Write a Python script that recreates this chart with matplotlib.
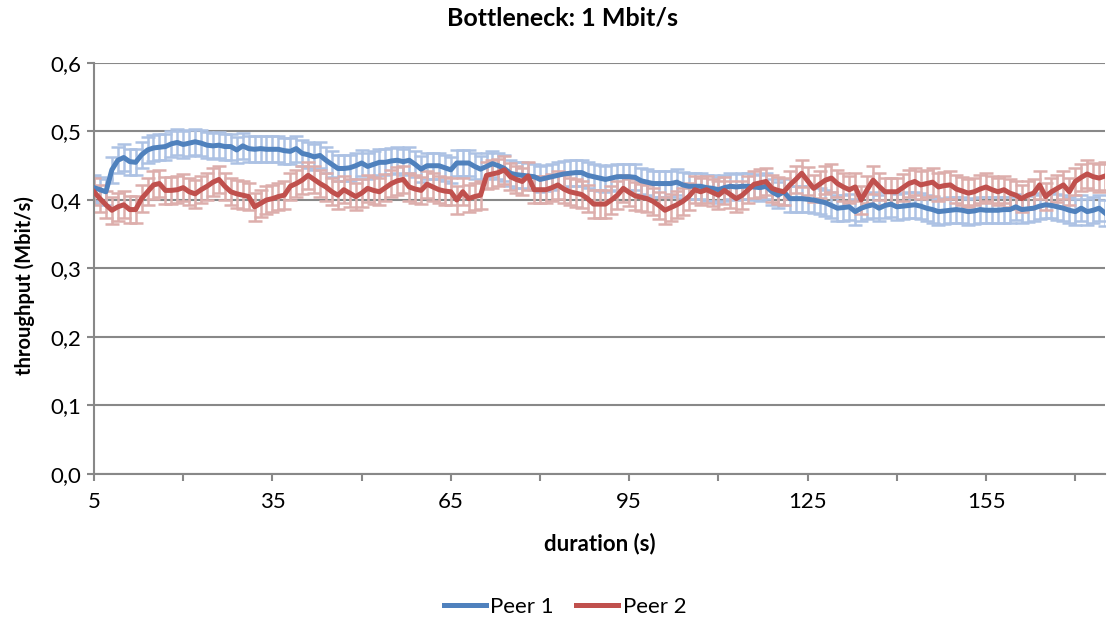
import numpy as np
import matplotlib
matplotlib.use('Agg')
import matplotlib.pyplot as plt
from matplotlib.ticker import FuncFormatter, MultipleLocator

# Datos: duración (s) y throughput medio por peer (Mbit/s)
duration = np.arange(5, 176)

peer1 = [
    0.418, 0.415, 0.412, 0.444, 0.458, 0.462, 0.456, 0.455, 0.466, 0.473,
    0.476, 0.477, 0.478, 0.482, 0.484, 0.481, 0.483, 0.485, 0.483, 0.480,
    0.479, 0.480, 0.478, 0.478, 0.473, 0.479, 0.475, 0.474, 0.475, 0.474,
    0.474, 0.474, 0.472, 0.471, 0.475, 0.468, 0.466, 0.463, 0.465, 0.458,
    0.452, 0.446, 0.446, 0.447, 0.450, 0.454, 0.449, 0.452, 0.455, 0.455,
    0.457, 0.458, 0.456, 0.458, 0.452, 0.445, 0.450, 0.450, 0.450, 0.447,
    0.444, 0.454, 0.454, 0.454, 0.449, 0.445, 0.449, 0.453, 0.450, 0.446,
    0.439, 0.437, 0.436, 0.435, 0.434, 0.430, 0.432, 0.434, 0.436, 0.438,
    0.439, 0.440, 0.440, 0.436, 0.434, 0.432, 0.430, 0.432, 0.434, 0.434,
    0.434, 0.433, 0.428, 0.426, 0.424, 0.424, 0.424, 0.424, 0.426, 0.422,
    0.420, 0.420, 0.420, 0.418, 0.417, 0.415, 0.418, 0.420, 0.419, 0.420,
    0.420, 0.419, 0.418, 0.420, 0.412, 0.407, 0.412, 0.402, 0.402, 0.402,
    0.401, 0.400, 0.398, 0.396, 0.392, 0.388, 0.389, 0.390, 0.383, 0.388,
    0.391, 0.393, 0.388, 0.392, 0.394, 0.390, 0.391, 0.392, 0.393, 0.391,
    0.388, 0.386, 0.383, 0.384, 0.385, 0.386, 0.385, 0.383, 0.384, 0.386,
    0.385, 0.385, 0.385, 0.386, 0.386, 0.390, 0.386, 0.387, 0.388, 0.391,
    0.393, 0.392, 0.390, 0.388, 0.385, 0.383, 0.388, 0.383, 0.385, 0.388,
    0.381,
]

peer2 = [
    0.412, 0.402, 0.393, 0.385, 0.390, 0.393, 0.386, 0.386, 0.402, 0.412,
    0.422, 0.424, 0.414, 0.414, 0.415, 0.418, 0.412, 0.409, 0.415, 0.420,
    0.426, 0.430, 0.420, 0.412, 0.409, 0.407, 0.405, 0.390, 0.395, 0.400,
    0.402, 0.405, 0.407, 0.420, 0.424, 0.429, 0.436, 0.430, 0.424, 0.419,
    0.412, 0.407, 0.415, 0.410, 0.405, 0.410, 0.417, 0.414, 0.412, 0.418,
    0.424, 0.428, 0.430, 0.419, 0.416, 0.414, 0.423, 0.419, 0.415, 0.413,
    0.412, 0.400, 0.412, 0.402, 0.405, 0.407, 0.436, 0.438, 0.440, 0.444,
    0.434, 0.430, 0.427, 0.435, 0.415, 0.415, 0.415, 0.418, 0.422, 0.416,
    0.412, 0.410, 0.408, 0.402, 0.394, 0.394, 0.394, 0.400, 0.407, 0.417,
    0.411, 0.406, 0.404, 0.402, 0.398, 0.392, 0.385, 0.389, 0.393, 0.398,
    0.405, 0.415, 0.412, 0.415, 0.411, 0.407, 0.414, 0.408, 0.402, 0.407,
    0.415, 0.423, 0.425, 0.427, 0.417, 0.414, 0.412, 0.422, 0.430, 0.439,
    0.428, 0.417, 0.423, 0.429, 0.432, 0.424, 0.419, 0.415, 0.419, 0.400,
    0.415, 0.429, 0.420, 0.412, 0.412, 0.412, 0.418, 0.424, 0.427, 0.422,
    0.424, 0.426, 0.419, 0.421, 0.422, 0.416, 0.413, 0.410, 0.412, 0.416,
    0.419, 0.415, 0.412, 0.415, 0.410, 0.407, 0.402, 0.407, 0.410, 0.422,
    0.405, 0.412, 0.417, 0.422, 0.412, 0.427, 0.433, 0.438, 0.434, 0.432,
    0.435,
]

# Error (desviación) aproximada de cada serie
err1 = 0.019
err2 = 0.020

labels = ['Peer 1', 'Peer 2']

plt.rcParams['font.family'] = ['Lato', 'DejaVu Sans']

fig = plt.figure(figsize=(11.1, 6.23), dpi=100)
ax = fig.add_axes([0.0847, 0.2392, 0.9108, 0.6597])

ax.errorbar(duration, peer1, yerr=err1, fmt='none', ecolor='#adc2e4',
            elinewidth=1.8, capsize=5, capthick=1.8, zorder=2)
ax.errorbar(duration, peer2, yerr=err2, fmt='none', ecolor='#ddaeac',
            elinewidth=1.8, capsize=5, capthick=1.8, zorder=2)
ax.plot(duration, peer1, color='#4f81bd', linewidth=3.6, label=labels[0], zorder=4,
        solid_joinstyle='round')
ax.plot(duration, peer2, color='#c0504d', linewidth=3.6, label=labels[1], zorder=4,
        solid_joinstyle='round')

ax.set_xlim(5, 175)
ax.set_ylim(0, 0.6)
ax.xaxis.set_major_locator(MultipleLocator(30, offset=5))
ax.xaxis.set_minor_locator(MultipleLocator(15, offset=5))
ax.yaxis.set_major_locator(MultipleLocator(0.1))
ax.yaxis.set_major_formatter(FuncFormatter(lambda v, p: f'{v:.1f}'.replace('.', ',')))

ax.grid(axis='y', color='#888888', linewidth=1.5, zorder=1)
ax.set_axisbelow(True)
for s in ['top', 'right']:
    ax.spines[s].set_visible(False)
for s in ['left', 'bottom']:
    ax.spines[s].set_color('#888888')
    ax.spines[s].set_linewidth(1.5)

ax.tick_params(axis='both', which='both', color='#888888', width=1.5, length=5,
               labelsize=16)
ax.tick_params(axis='x', which='major', pad=8)
ax.tick_params(axis='y', pad=4)

fig.text(0.507, 0.971, 'Bottleneck: 1 Mbit/s', fontsize=18, fontweight='bold',
         ha='center', va='center')
fig.text(0.54, 0.128, 'duration (s)', fontsize=16, fontweight='bold',
         ha='center', va='center')
fig.text(0.0225, 0.541, 'throughput (Mbit/s)', fontsize=14.5, fontweight='bold',
         ha='center', va='center', rotation=90)

fig.legend(loc='center', ncol=2, frameon=False, fontsize=16,
           bbox_to_anchor=(0.509, 0.026), handlelength=1.9, columnspacing=1.0,
           handletextpad=0.2)

plt.savefig('out.png', dpi=100)
